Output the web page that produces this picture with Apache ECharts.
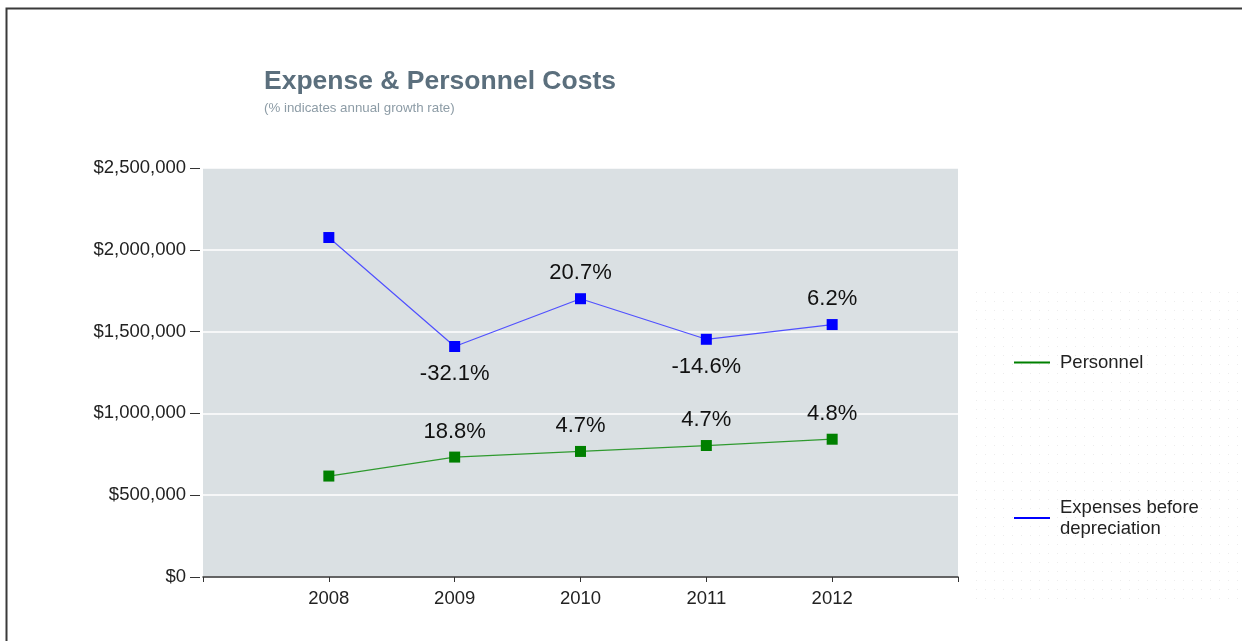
<!DOCTYPE html>
<html>
<head>
<meta charset="utf-8">
<script src="https://cdn.jsdelivr.net/npm/echarts@6/dist/echarts.min.js"></script>
<style>
  html, body { margin: 0; padding: 0; background: #fff; }
  #chart { width: 1242px; height: 641px; }
</style>
</head>
<body>
<div id="chart"></div>
<script>
// Fiscal years shown on the x axis
const years = [2008, 2009, 2010, 2011, 2012];
// Annual cost totals in dollars
const personnel = [617000, 733000, 767500, 803600, 842200];
const expenses = [2075000, 1409000, 1701000, 1453000, 1543000];
// Year-over-year growth labels
const personnelGrowth = ['', '18.8%', '4.7%', '4.7%', '4.8%'];
const expensesGrowth = ['', '-32.1%', '20.7%', '-14.6%', '6.2%'];
// Y axis range and step
const yMax = 2500000;
const yStep = 500000;

const FONT = 'Liberation Sans, Arial, sans-serif';

// Negative growth is labelled under the point, positive growth above it
function buildData(values, growth) {
  return values.map((v, i) => {
    const down = growth[i].startsWith('-');
    return {
      value: [years[i], v],
      label: { position: down ? 'bottom' : 'top', distance: down ? 11 : 9 }
    };
  });
}

// Light dotted texture behind the legend
function dotPattern() {
  const c = document.createElement('canvas');
  c.width = 9; c.height = 9;
  const ctx = c.getContext('2d');
  ctx.fillStyle = '#ececec';
  ctx.fillRect(4, 4, 1, 1);
  return c;
}

const chart = echarts.init(document.getElementById('chart'), null, { renderer: 'canvas' });

const moneyFmt = v => '$' + v.toLocaleString('en-US');

chart.setOption({
  backgroundColor: '#ffffff',
  animation: false,
  textStyle: { fontFamily: FONT },
  title: {
    text: 'Expense & Personnel Costs',
    subtext: '(% indicates annual growth rate)',
    left: 259,
    top: 63,
    itemGap: 7,
    textStyle: { fontFamily: FONT, fontSize: 26.5, fontWeight: 'bold', color: '#5b6f7d' },
    subtextStyle: { fontFamily: FONT, fontSize: 13.3, color: '#8d9ca6' }
  },
  graphic: [
    {
      type: 'rect', silent: true, z: -1,
      shape: { x: 973, y: 285, width: 269, height: 321 },
      style: { fill: { image: dotPattern(), repeat: 'repeat' } }
    },
    {
      type: 'polyline', silent: true,
      shape: { points: [[6.5, 641], [6.5, 8.5], [1242, 8.5]] },
      style: { stroke: '#3a3a3a', lineWidth: 2, fill: null }
    }
  ],
  legend: [
    {
      data: ['Personnel'],
      orient: 'vertical',
      left: 1009, top: 348,
      itemWidth: 36, itemHeight: 2,
      icon: 'rect',
      textStyle: { fontFamily: FONT, fontSize: 18.5, color: '#222', padding: [0, 0, 0, 5] }
    },
    {
      data: ['Expenses before depreciation'],
      orient: 'vertical',
      left: 1009, top: 492,
      itemWidth: 36, itemHeight: 2,
      icon: 'rect',
      formatter: () => 'Expenses before\ndepreciation',
      textStyle: { fontFamily: FONT, fontSize: 18.5, color: '#222', lineHeight: 21, padding: [0, 0, 0, 5] }
    }
  ],
  grid: {
    left: 203, right: 284, top: 168, bottom: 64,
    show: true, backgroundColor: '#dae0e3', borderWidth: 0
  },
  xAxis: {
    type: 'value',
    min: 2007, max: 2013, interval: 1,
    axisLine: { show: true, lineStyle: { color: '#333', width: 1.5 } },
    axisTick: { show: true, length: 5, inside: false, lineStyle: { color: '#333' } },
    splitLine: { show: false },
    axisLabel: {
      fontFamily: FONT, fontSize: 18.5, color: '#222', margin: 12,
      formatter: v => (v === 2007 || v === 2013) ? '' : String(v),
      showMinLabel: true, showMaxLabel: true
    }
  },
  yAxis: {
    type: 'value',
    min: 0, max: yMax, interval: yStep,
    offset: 3,
    axisLine: { show: false },
    axisTick: { show: true, length: 10, lineStyle: { color: '#333' } },
    splitLine: { show: true, lineStyle: { color: '#ffffff', width: 1.5 } },
    axisLabel: {
      fontFamily: FONT, fontSize: 18.5, color: '#222', margin: 14,
      formatter: moneyFmt
    }
  },
  series: [
    {
      name: 'Personnel',
      type: 'line',
      data: buildData(personnel, personnelGrowth),
      symbol: 'rect', symbolSize: 11,
      itemStyle: { color: '#008000' },
      lineStyle: { color: '#2f9a2f', width: 1.2 },
      label: {
        show: true,
        fontFamily: FONT, fontSize: 22, color: '#111',
        formatter: p => personnelGrowth[p.dataIndex]
      }
    },
    {
      name: 'Expenses before depreciation',
      type: 'line',
      data: buildData(expenses, expensesGrowth),
      symbol: 'rect', symbolSize: 11,
      itemStyle: { color: '#0000ff' },
      lineStyle: { color: '#5050ff', width: 1.2 },
      label: {
        show: true,
        fontFamily: FONT, fontSize: 22, color: '#111',
        formatter: p => expensesGrowth[p.dataIndex]
      }
    }
  ]
});
</script>
</body>
</html>
